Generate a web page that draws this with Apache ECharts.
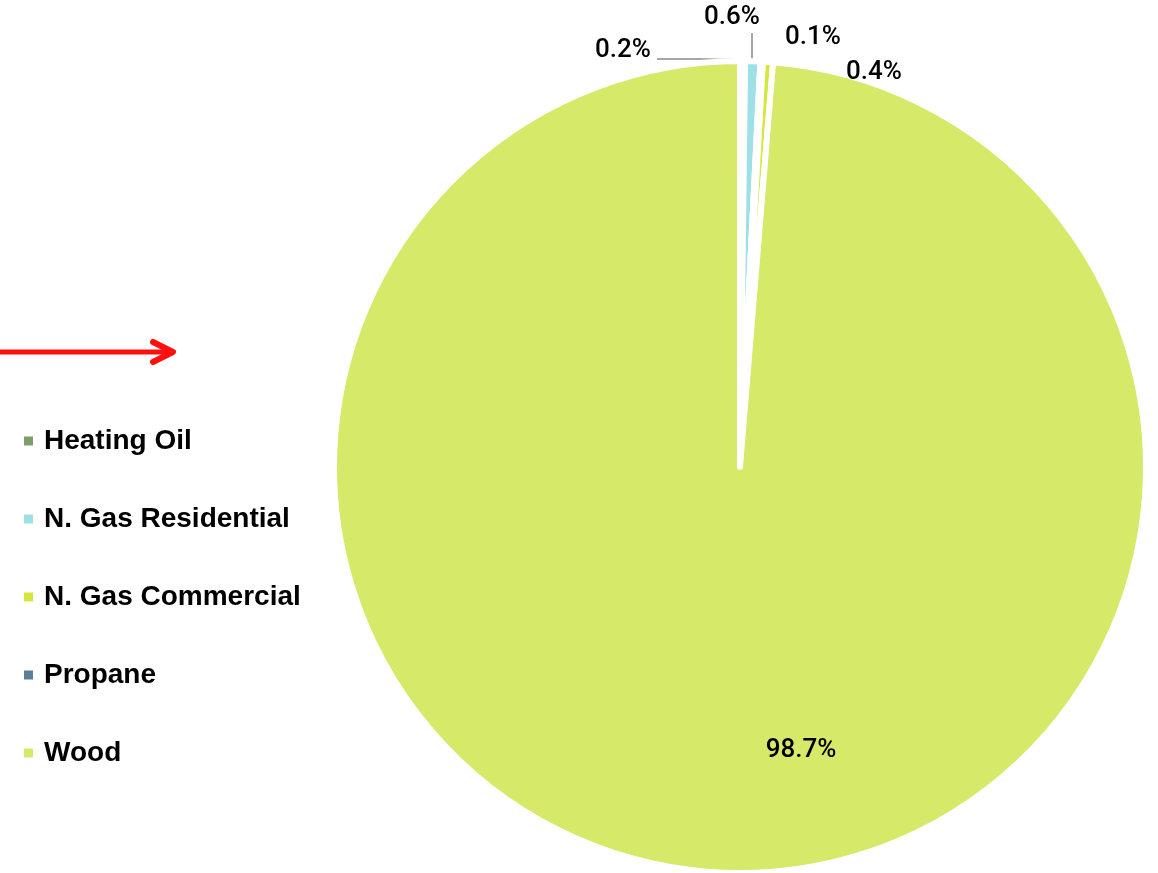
<!DOCTYPE html>
<html>
<head>
<meta charset="utf-8">
<script src="https://cdn.jsdelivr.net/npm/echarts@6/dist/echarts.min.js"></script>
<style>
html,body{margin:0;padding:0;background:#fff;}
#chart{width:1158px;height:873px;}
</style>
</head>
<body>
<div id="chart"></div>
<script>
// ---- data ----
const categories = ['Heating Oil', 'N. Gas Residential', 'N. Gas Commercial', 'Propane', 'Wood'];
const shares = [0.2, 0.6, 0.1, 0.4, 98.7];

// ---- styles ----
const legendColors = ['#7c9e6a', '#9de0e6', '#d4e83b', '#5b7e98', '#d6e968'];
const sliceColors  = ['#7c9e6a', '#9de0e6', '#d4e83b', '#d4e83b', '#d6e968'];
const labelAnchors = [[623, 50], [732, 17], [813, 37], [874, 72], [801, 750]];
const leaderLines = {
  0: [[743, 60], [700, 59], [657, 59]],
  1: [[752, 60], [752, 46], [752, 33]]
};

const chart = echarts.init(document.getElementById('chart'), null, {renderer: 'canvas'});

const pieData = categories.map((name, i) => ({
  name: name,
  value: shares[i],
  itemStyle: {color: sliceColors[i]},
  labelLine: {show: leaderLines[i] !== undefined}
}));

const option = {
  backgroundColor: '#ffffff',
  animation: false,
  legend: {
    orient: 'vertical',
    left: 22,
    top: 426,
    padding: 0,
    itemWidth: 11,
    itemHeight: 11,
    itemGap: 48,
    icon: 'rect',
    data: categories.map((name, i) => ({name: name, icon: 'rect', itemStyle: {color: legendColors[i]}})),
    textStyle: {
      fontFamily: 'Liberation Sans',
      fontWeight: 'bold',
      fontSize: 28,
      color: '#000',
      lineHeight: 30,
      padding: [0, 0, 0, 5]
    }
  },
  graphic: [
    {type: 'line', shape: {x1: 0, y1: 352, x2: 172, y2: 352}, style: {stroke: '#ff1010', lineWidth: 5}},
    {type: 'polyline', shape: {points: [[153, 342], [173, 352], [153, 362]]},
     style: {stroke: '#ff1010', lineWidth: 6, fill: null, lineCap: 'round', lineJoin: 'round'}}
  ],
  series: [{
    type: 'pie',
    center: [740, 467],
    radius: 406,
    startAngle: 90,
    clockwise: true,
    avoidLabelOverlap: false,
    minAngle: 0,
    itemStyle: {borderColor: '#ffffff', borderWidth: 6},
    label: {
      show: true,
      position: 'outside',
      formatter: p => p.value.toFixed(1) + '%',
      fontFamily: 'Roboto',
      fontWeight: 500,
      fontSize: 26,
      color: '#000'
    },
    labelLine: {
      show: true,
      length: 10,
      length2: 10,
      lineStyle: {color: '#a6a6a6', width: 2}
    },
    labelLayout: function (p) {
      const a = labelAnchors[p.dataIndex];
      const r = {x: a[0], y: a[1], align: 'center', verticalAlign: 'middle'};
      if (leaderLines[p.dataIndex]) r.labelLinePoints = leaderLines[p.dataIndex];
      return r;
    },
    emphasis: {disabled: true},
    data: pieData
  }]
};
chart.setOption(option);
</script>
</body>
</html>
